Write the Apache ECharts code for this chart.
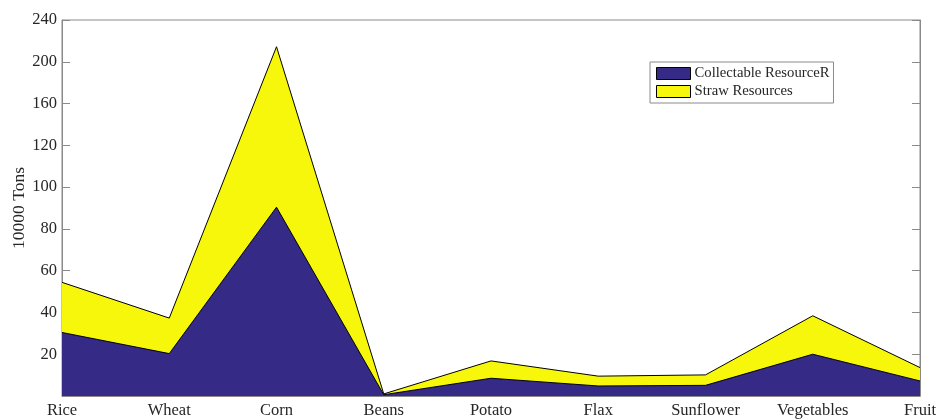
<!DOCTYPE html>
<html>
<head>
<meta charset="utf-8">
<script src="https://cdn.jsdelivr.net/npm/echarts@6/dist/echarts.min.js"></script>
<style>
  html, body { margin: 0; padding: 0; background: #fff; }
  #chart { width: 938px; height: 419px; }
</style>
</head>
<body>
<div id="chart"></div>
<script>
// Crop categories along the horizontal axis
const categories = ['Rice', 'Wheat', 'Corn', 'Beans', 'Potato', 'Flax', 'Sunflower', 'Vegetables', 'Fruit'];

// Lower layer: collectable resource
const collectable = [30.4, 20.3, 90.4, 0.6, 8.5, 4.8, 5.1, 20.0, 7.2];

// Upper layer: straw resources, stacked on the collectable layer
const straw = [24.0, 17.0, 76.8, 0.4, 8.3, 4.7, 5.0, 18.4, 6.4];

// Vertical tick labels, one per gridline step starting at 0
const yTickLabels = ['', '20', '40', '60', '80', '100', '120', '160', '200', '240'];

const serif = '"Liberation Serif", "DejaVu Serif", serif';
const axisGrey = '#8a8a8a';
const textColor = '#262626';

const chart = echarts.init(document.getElementById('chart'));

chart.setOption({
  animation: false,
  textStyle: { fontFamily: serif },
  grid: {
    left: 62, right: 18, top: 20, bottom: 23,
    containLabel: false,
    outerBoundsMode: 'none',
    show: true, borderColor: axisGrey, borderWidth: 1, backgroundColor: '#fff'
  },
  legend: {
    left: 650, top: 62,
    orient: 'vertical',
    itemWidth: 34, itemHeight: 12, itemGap: 3,
    padding: [4, 4, 4, 6],
    borderColor: axisGrey, borderWidth: 1, borderRadius: 0,
    backgroundColor: '#fff',
    icon: 'rect',
    textStyle: { fontFamily: serif, fontSize: 14.7, color: textColor, padding: [0, 0, 0, -1] },
    data: [
      { name: 'Collectable ResourceR', itemStyle: { color: '#352a86', borderColor: '#000', borderWidth: 1 } },
      { name: 'Straw Resources', itemStyle: { color: '#f7f70c', borderColor: '#000', borderWidth: 1 } }
    ]
  },
  xAxis: {
    type: 'category',
    data: categories,
    boundaryGap: false,
    axisLine: { show: true, lineStyle: { color: axisGrey } },
    axisTick: { show: false },
    axisLabel: { fontFamily: serif, fontSize: 16.5, color: textColor, margin: 6 },
    splitLine: { show: false }
  },
  yAxis: [
    {
      type: 'value',
      min: 0, max: 180, interval: 20,
      name: '10000 Tons',
      nameLocation: 'middle',
      nameGap: 34,
      nameMoveOverlap: false,
      nameTextStyle: { fontFamily: serif, fontSize: 17.5, color: textColor },
      axisLine: { show: true, lineStyle: { color: axisGrey } },
      axisTick: { show: true, inside: true, length: 8, lineStyle: { color: axisGrey } },
      axisLabel: {
        fontFamily: serif, fontSize: 16.5, color: textColor, margin: 5,
        formatter: function (v) { return yTickLabels[Math.round(v / 20)] || ''; }
      },
      splitLine: { show: false }
    },
    {
      type: 'value',
      position: 'right',
      min: 0, max: 180, interval: 20,
      axisLine: { show: true, lineStyle: { color: axisGrey } },
      axisTick: { show: true, inside: true, length: 8, lineStyle: { color: axisGrey } },
      axisLabel: { show: false },
      splitLine: { show: false }
    }
  ],
  series: [
    {
      name: 'Collectable ResourceR',
      type: 'line',
      stack: 'total',
      data: collectable,
      symbol: 'none',
      lineStyle: { color: '#000', width: 1 },
      itemStyle: { color: '#352a86' },
      areaStyle: { color: '#352a86', opacity: 1 },
      z: 3
    },
    {
      name: 'Straw Resources',
      type: 'line',
      stack: 'total',
      data: straw,
      symbol: 'none',
      lineStyle: { color: '#000', width: 1 },
      itemStyle: { color: '#f7f70c' },
      areaStyle: { color: '#f7f70c', opacity: 1 },
      z: 2
    }
  ]
});
</script>
</body>
</html>
